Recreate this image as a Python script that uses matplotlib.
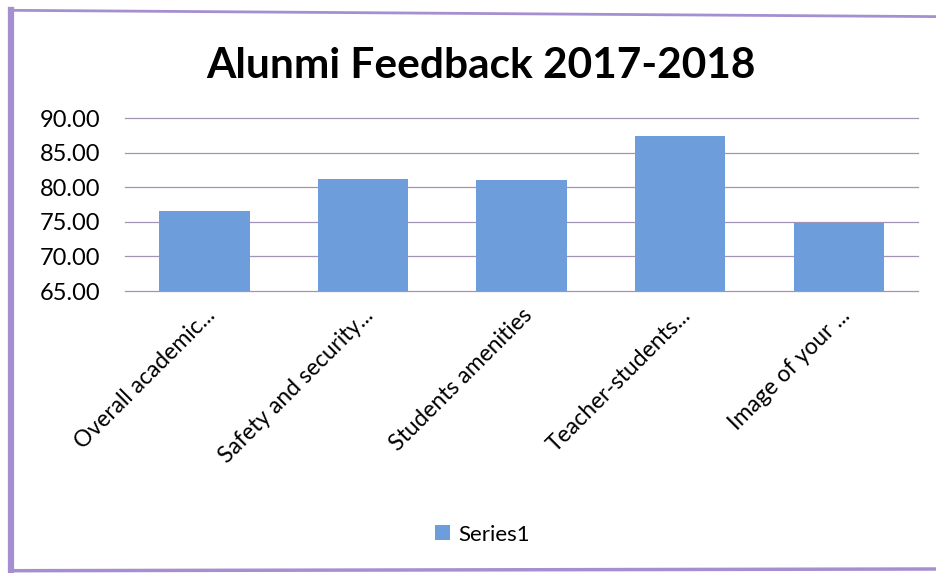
import matplotlib
matplotlib.use("Agg")
import matplotlib.pyplot as plt
from matplotlib.lines import Line2D

plt.rcParams["font.family"] = ["Lato", "DejaVu Sans"]

# データ
categories = [
    "Overall academic...",
    "Safety and security...",
    "Students amenities",
    "Teacher-students...",
    "Image of your ...",
]
values = [76.5, 81.2, 81.0, 87.4, 74.8]
y_ticks = [65, 70, 75, 80, 85, 90]

BAR_COLOR = "#6d9ddb"
GRID_COLOR = "#a394b4"
BORDER_COLOR = "#a58fd0"

fig = plt.figure(figsize=(9.37, 5.73), dpi=100)
ax = fig.add_axes([0.1334, 0.492, 0.8466, 0.302])

x = list(range(len(categories)))
ax.bar(x, values, width=0.57, color=BAR_COLOR, zorder=2, label="Series1")

ax.set_ylim(65, 90)
ax.set_xlim(-0.5, len(categories) - 0.5)
ax.set_yticks(y_ticks)
ax.set_yticklabels([f"{v:.2f}" for v in y_ticks], fontsize=17)
ax.yaxis.grid(True, color=GRID_COLOR, linewidth=0.9, zorder=1)
for gl in ax.get_ygridlines():
    gl.set_clip_on(False)
ax.tick_params(axis="y", length=0, pad=18)
ax.tick_params(axis="x", length=0, pad=10)
ax.set_xticks(x)
ax.set_xticklabels(categories, fontsize=16.5, rotation=45, ha="right",
                   va="top", rotation_mode="anchor")
for s in ax.spines.values():
    s.set_visible(False)

fig.text(0.513, 0.885, "Alunmi Feedback 2017-2018", ha="center", va="center",
         fontsize=30.5, fontweight="bold")

fig.legend(loc="center", bbox_to_anchor=(0.515, 0.067), frameon=False,
           fontsize=16, handlelength=0.65, handleheight=0.65, handletextpad=0.4)

# 外枠 (スキャン画像の紫色の枠線: 左は太く、右は無し)
fig.lines.append(Line2D([0.012, 0.012], [0.004, 0.982], transform=fig.transFigure,
                        color=BORDER_COLOR, linewidth=4.5))
fig.lines.append(Line2D([0.012, 1.0], [0.982, 0.971], transform=fig.transFigure,
                        color=BORDER_COLOR, linewidth=2))
fig.lines.append(Line2D([0.012, 1.0], [0.004, 0.007], transform=fig.transFigure,
                        color=BORDER_COLOR, linewidth=2.5))

fig.savefig("out.png", dpi=100, facecolor="white")
